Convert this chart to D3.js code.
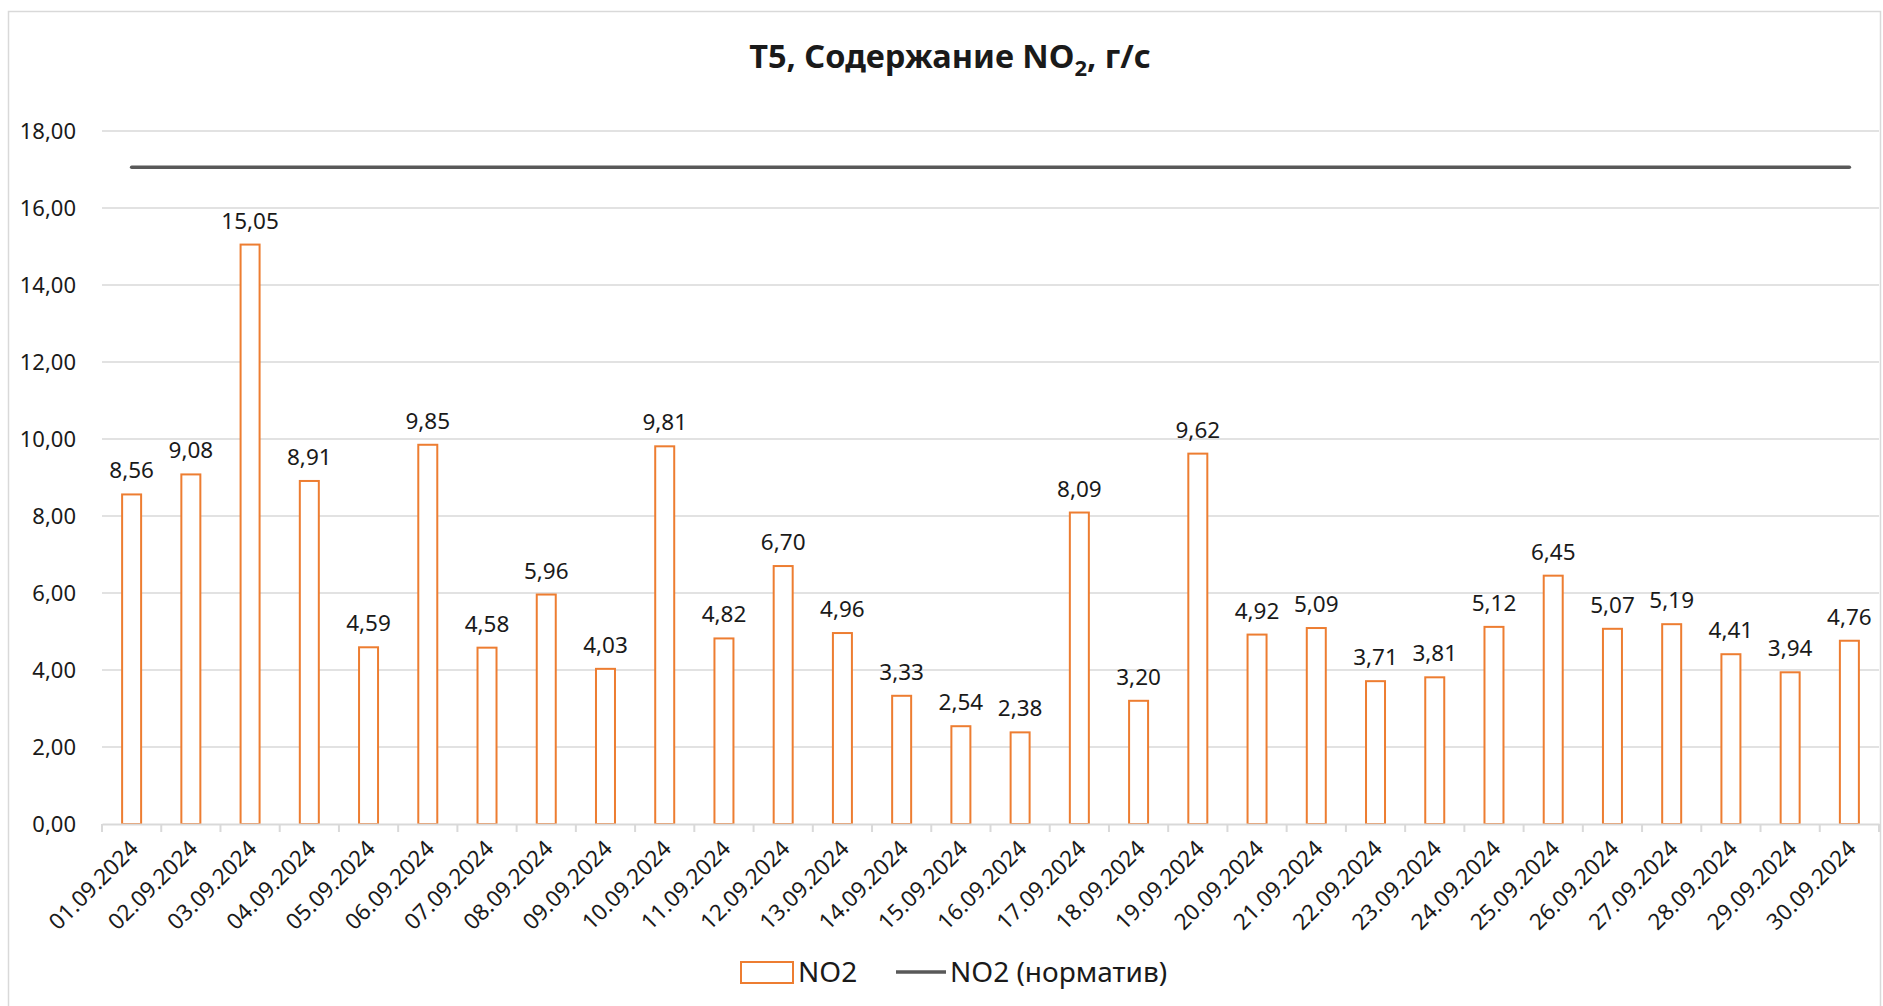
<!DOCTYPE html>
<html>
<head>
<meta charset="utf-8">
<script src="https://cdn.jsdelivr.net/npm/d3@7"></script>
<style>
  body { margin: 0; background: #fff; }
  svg text { font-family: "Noto Sans", "DejaVu Sans", sans-serif; fill: #1a1a1a; }
</style>
</head>
<body>
<svg id="chart" width="1883" height="1006"></svg>
<script>
// data
const dates = ["01.09.2024", "02.09.2024", "03.09.2024", "04.09.2024", "05.09.2024",
  "06.09.2024", "07.09.2024", "08.09.2024", "09.09.2024", "10.09.2024",
  "11.09.2024", "12.09.2024", "13.09.2024", "14.09.2024", "15.09.2024",
  "16.09.2024", "17.09.2024", "18.09.2024", "19.09.2024", "20.09.2024",
  "21.09.2024", "22.09.2024", "23.09.2024", "24.09.2024", "25.09.2024",
  "26.09.2024", "27.09.2024", "28.09.2024", "29.09.2024", "30.09.2024"];
const no2 = [8.56, 9.08, 15.05, 8.91, 4.59, 9.85, 4.58, 5.96, 4.03, 9.81,
  4.82, 6.70, 4.96, 3.33, 2.54, 2.38, 8.09, 3.20, 9.62, 4.92,
  5.09, 3.71, 3.81, 5.12, 6.45, 5.07, 5.19, 4.41, 3.94, 4.76];
const no2Norm = dates.map(() => 17.06);
const yTicks = [0, 2, 4, 6, 8, 10, 12, 14, 16, 18];

const svg = d3.select("#chart");
const margin = { left: 102, right: 4, top: 131, bottom: 182 };
const W = 1883, H = 1006;
const fmt = v => d3.format(".2f")(v).replace(".", ",");

// outer frame
svg.append("rect")
  .attr("x", 8.5).attr("y", 11.5)
  .attr("width", 1872).attr("height", 1010)
  .attr("fill", "none").attr("stroke", "#d9d9d9").attr("stroke-width", 1.5);

const x = d3.scaleBand().domain(dates).range([margin.left, W - margin.right]);
const y = d3.scaleLinear().domain([0, 18]).range([H - margin.bottom, margin.top]);

// gridlines
svg.append("g").selectAll("line")
  .data(yTicks.filter(d => d > 0))
  .enter().append("line")
  .attr("x1", margin.left).attr("x2", W - margin.right)
  .attr("y1", d => y(d)).attr("y2", d => y(d))
  .attr("stroke", "#d9d9d9").attr("stroke-width", 1.5);

// y axis labels
const yAxis = svg.append("g")
  .attr("transform", `translate(${margin.left},0)`)
  .call(d3.axisLeft(y).tickValues(yTicks).tickFormat(fmt).tickSize(0).tickPadding(26));
yAxis.select(".domain").remove();
yAxis.selectAll("text").style("font-size", "22px").attr("fill", "#1a1a1a");

// bars
svg.append("g").selectAll("rect")
  .data(no2)
  .enter().append("rect")
  .attr("x", (d, i) => x(dates[i]) + x.bandwidth() / 2 - 9.5)
  .attr("width", 19)
  .attr("y", d => y(d))
  .attr("height", d => y(0) - y(d))
  .attr("fill", "#fff")
  .attr("stroke", "#ed7d31").attr("stroke-width", 2);

// x axis
const xAxis = svg.append("g")
  .attr("transform", `translate(0,${y(0)})`)
  .call(d3.axisBottom(x).tickSize(0).tickPadding(0));
xAxis.select(".domain").attr("stroke", "#d9d9d9").attr("stroke-width", 2);
xAxis.selectAll("text").remove();
// tick marks at category boundaries
xAxis.append("g").selectAll("line")
  .data(dates.concat(["end"]))
  .enter().append("line")
  .attr("x1", (d, i) => margin.left + i * x.step())
  .attr("x2", (d, i) => margin.left + i * x.step())
  .attr("y1", 0).attr("y2", 8)
  .attr("stroke", "#d9d9d9").attr("stroke-width", 2);
xAxis.append("g").selectAll("text")
  .data(dates)
  .enter().append("text")
  .attr("transform", d => `translate(${x(d) + x.bandwidth() / 2 + 8},${26}) rotate(-45)`)
  .attr("text-anchor", "end")
  .style("font-size", "22.5px")
  .text(d => d);

// normative line
const line = d3.line()
  .x((d, i) => x(dates[i]) + x.bandwidth() / 2)
  .y(d => y(d));
svg.append("path")
  .datum(no2Norm)
  .attr("d", line)
  .attr("fill", "none")
  .attr("stroke", "#595959").attr("stroke-width", 3.5)
  .attr("stroke-linecap", "round");

// data labels
svg.append("g").selectAll("text")
  .data(no2)
  .enter().append("text")
  .attr("x", (d, i) => x(dates[i]) + x.bandwidth() / 2)
  .attr("y", d => y(d) - 16)
  .attr("text-anchor", "middle")
  .style("font-size", "22.5px")
  .text(fmt);

// title
const title = svg.append("text")
  .attr("x", 950).attr("y", 68)
  .attr("text-anchor", "middle")
  .style("font-size", "32.5px").style("font-weight", "bold");
title.append("tspan").text("T5, Содержание NO");
title.append("tspan").attr("dy", 8).style("font-size", "22px").text("2");
title.append("tspan").attr("dy", -8).text(", г/с");

// legend
const lg = svg.append("g").attr("transform", "translate(741,972)");
lg.append("rect")
  .attr("x", 0).attr("y", -10).attr("width", 52).attr("height", 21)
  .attr("fill", "#fff").attr("stroke", "#ed7d31").attr("stroke-width", 2);
lg.append("text").attr("x", 57).attr("y", 10).style("font-size", "28px").text("NO2");
lg.append("line")
  .attr("x1", 155).attr("x2", 205).attr("y1", 0).attr("y2", 0)
  .attr("stroke", "#595959").attr("stroke-width", 3.5);
lg.append("text").attr("x", 209).attr("y", 10).style("font-size", "28px").text("NO2 (норматив)");
</script>
</body>
</html>
